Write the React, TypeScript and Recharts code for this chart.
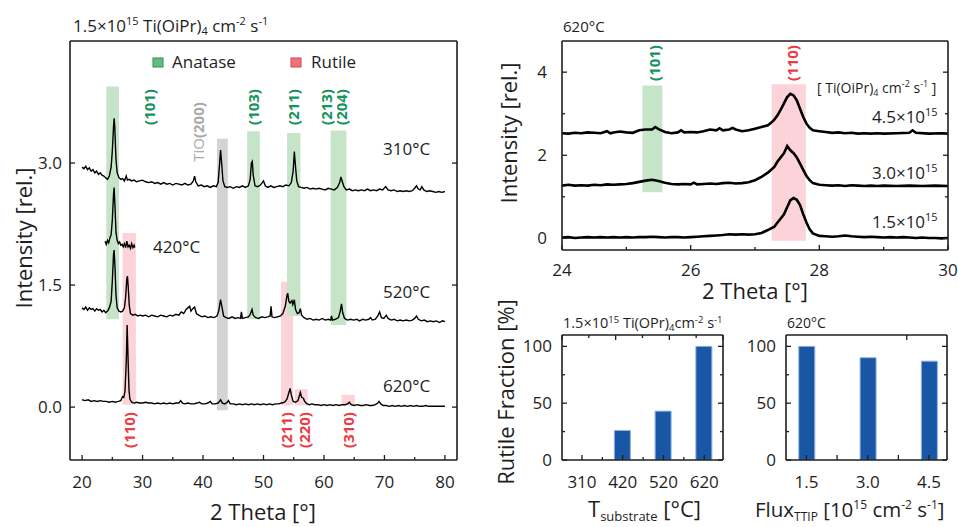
import React from "react";
import { ComposedChart, Line, Bar, XAxis, YAxis, ReferenceArea } from "recharts";

const W = 958;
const H = 527;
const FONT = "'Open Sans', 'Noto Sans', sans-serif";
const INK = "#1e1e1e";
const GREEN_BAND = "#c6e5c8";
const PINK_BAND = "#fcd3d8";
const GREY_BAND = "#d3d3d3";
const GREEN_TXT = "#17935c";
const RED_TXT = "#ee3a45";
const BAR_BLUE = "#1a56a6";
const AX = 10; // space reserved for every axis

// ---- left panel: XRD scans at different substrate temperatures [2θ, intensity] ----
const xrd310 = [
  [20.0, 2.95], [20.3, 2.93], [20.6, 2.96], [20.9, 2.92], [21.2, 2.94], [21.5, 2.9], [21.8, 2.92], [22.1, 2.88],
  [22.4, 2.9], [22.7, 2.86], [23.0, 2.88], [23.3, 2.85], [23.6, 2.84], [23.9, 2.82], [24.2, 2.8], [24.5, 2.84],
  [24.8, 2.95], [25.0, 3.15], [25.2, 3.45], [25.3, 3.55], [25.4, 3.45], [25.6, 3.05], [25.8, 2.88], [26.1, 2.82],
  [26.4, 2.8], [26.7, 2.81], [27.0, 2.78], [27.3, 2.84], [27.5, 2.79], [27.8, 2.8], [28.2, 2.78], [28.6, 2.79],
  [29.0, 2.77], [29.5, 2.78], [30.0, 2.79], [30.5, 2.77], [31.0, 2.76], [31.5, 2.77], [32.0, 2.75], [32.5, 2.76],
  [33.0, 2.74], [33.5, 2.76], [34.0, 2.74], [34.5, 2.75], [35.0, 2.73], [35.5, 2.75], [36.0, 2.74], [36.5, 2.73],
  [37.0, 2.75], [37.5, 2.73], [38.0, 2.74], [38.4, 2.78], [38.6, 2.84], [38.8, 2.77], [39.2, 2.72], [39.7, 2.73],
  [40.2, 2.71], [40.7, 2.72], [41.2, 2.7], [41.7, 2.72], [42.2, 2.71], [42.5, 2.76], [42.7, 2.95], [42.9, 3.16],
  [43.1, 2.98], [43.3, 2.78], [43.6, 2.71], [44.0, 2.7], [44.5, 2.71], [45.0, 2.69], [45.5, 2.71], [46.0, 2.7],
  [46.5, 2.72], [47.0, 2.7], [47.5, 2.72], [47.8, 2.8], [48.0, 3.0], [48.15, 3.02], [48.3, 2.85], [48.6, 2.72],
  [49.0, 2.71], [49.5, 2.73], [50.0, 2.78], [50.3, 2.72], [50.7, 2.7], [51.2, 2.72], [51.7, 2.7], [52.2, 2.71],
  [52.7, 2.72], [53.2, 2.71], [53.7, 2.73], [54.2, 2.72], [54.6, 2.76], [54.9, 2.9], [55.1, 3.14], [55.3, 2.95],
  [55.5, 2.78], [55.8, 2.71], [56.2, 2.7], [56.7, 2.69], [57.2, 2.7], [57.7, 2.68], [58.2, 2.69], [58.7, 2.68],
  [59.2, 2.69], [59.7, 2.68], [60.2, 2.67], [60.7, 2.69], [61.2, 2.68], [61.7, 2.67], [62.2, 2.7], [62.6, 2.76],
  [62.8, 2.83], [63.0, 2.78], [63.3, 2.71], [63.7, 2.67], [64.2, 2.68], [64.7, 2.66], [65.2, 2.67], [65.7, 2.66],
  [66.2, 2.67], [66.7, 2.66], [67.2, 2.68], [67.7, 2.66], [68.2, 2.67], [68.7, 2.66], [69.2, 2.68], [69.7, 2.67],
  [70.2, 2.71], [70.6, 2.67], [71.1, 2.66], [71.6, 2.67], [72.1, 2.65], [72.6, 2.66], [73.1, 2.65], [73.6, 2.66],
  [74.1, 2.65], [74.6, 2.66], [75.0, 2.69], [75.3, 2.72], [75.6, 2.68], [75.9, 2.67], [76.2, 2.71], [76.5, 2.67],
  [77.0, 2.65], [77.5, 2.66], [78.0, 2.65], [78.5, 2.64], [79.0, 2.65], [79.5, 2.64], [80.0, 2.65],
];

const xrd420 = [
  [23.8, 2.04], [24.0, 2.0], [24.2, 2.05], [24.4, 2.02], [24.6, 2.08], [24.8, 2.12], [25.0, 2.3], [25.2, 2.62],
  [25.3, 2.7], [25.45, 2.45], [25.6, 2.15], [25.8, 2.05], [26.0, 2.01], [26.2, 2.03], [26.4, 1.99], [26.6, 2.0],
  [26.8, 1.97], [27.0, 2.01], [27.2, 1.96], [27.4, 2.04], [27.6, 1.97], [27.8, 1.99], [28.0, 1.95], [28.2, 2.01],
  [28.4, 1.96], [28.6, 1.99], [28.7, 1.96],
];

const xrd520 = [
  [20.0, 1.22], [20.3, 1.2], [20.6, 1.23], [20.9, 1.19], [21.2, 1.22], [21.5, 1.2], [21.8, 1.21], [22.1, 1.18],
  [22.4, 1.21], [22.7, 1.19], [23.0, 1.2], [23.3, 1.17], [23.6, 1.19], [23.9, 1.16], [24.2, 1.18], [24.5, 1.22],
  [24.8, 1.3], [25.0, 1.55], [25.2, 1.88], [25.3, 1.93], [25.45, 1.7], [25.6, 1.38], [25.8, 1.22], [26.1, 1.18],
  [26.4, 1.17], [26.7, 1.18], [27.0, 1.22], [27.2, 1.35], [27.4, 1.58], [27.5, 1.61], [27.65, 1.45], [27.8, 1.25],
  [28.0, 1.15], [28.4, 1.13], [28.8, 1.14], [29.2, 1.12], [29.6, 1.13], [30.0, 1.12], [30.5, 1.13], [31.0, 1.11],
  [31.5, 1.13], [32.0, 1.12], [32.5, 1.11], [33.0, 1.13], [33.5, 1.12], [34.0, 1.11], [34.5, 1.13], [35.0, 1.12],
  [35.5, 1.14], [36.0, 1.13], [36.4, 1.17], [36.8, 1.15], [37.2, 1.2], [37.5, 1.22], [37.8, 1.24], [38.0, 1.18],
  [38.3, 1.21], [38.6, 1.23], [38.9, 1.15], [39.3, 1.13], [39.8, 1.11], [40.3, 1.12], [40.8, 1.1], [41.3, 1.11],
  [41.8, 1.1], [42.3, 1.12], [42.6, 1.18], [42.9, 1.32], [43.1, 1.24], [43.4, 1.12], [43.8, 1.1], [44.3, 1.09],
  [44.8, 1.11], [45.3, 1.09], [45.8, 1.1], [46.2, 1.09], [46.35, 1.17], [46.5, 1.09], [47.0, 1.1], [47.5, 1.11],
  [47.8, 1.14], [48.1, 1.2], [48.3, 1.13], [48.7, 1.1], [49.2, 1.09], [49.7, 1.11], [50.2, 1.1], [50.7, 1.11],
  [51.1, 1.12], [51.25, 1.24], [51.4, 1.11], [51.8, 1.1], [52.3, 1.11], [52.8, 1.12], [53.2, 1.15], [53.6, 1.24],
  [53.9, 1.38], [54.0, 1.4], [54.2, 1.3], [54.4, 1.28], [54.7, 1.31], [54.85, 1.26], [55.1, 1.32], [55.3, 1.2],
  [55.6, 1.15], [55.9, 1.16], [56.1, 1.21], [56.3, 1.13], [56.7, 1.1], [57.2, 1.08], [57.7, 1.09], [58.2, 1.07],
  [58.7, 1.08], [59.2, 1.07], [59.7, 1.09], [60.2, 1.07], [60.7, 1.08], [61.1, 1.07], [61.25, 1.12], [61.4, 1.07],
  [61.9, 1.08], [62.4, 1.1], [62.7, 1.18], [62.9, 1.27], [63.1, 1.16], [63.4, 1.09], [63.9, 1.07], [64.4, 1.08],
  [64.9, 1.07], [65.4, 1.08], [65.9, 1.06], [66.4, 1.08], [66.9, 1.07], [67.4, 1.08], [67.7, 1.1], [68.0, 1.07],
  [68.5, 1.08], [68.9, 1.12], [69.2, 1.17], [69.5, 1.1], [69.9, 1.09], [70.3, 1.13], [70.6, 1.09], [71.1, 1.07],
  [71.6, 1.08], [72.1, 1.06], [72.6, 1.07], [73.1, 1.06], [73.6, 1.07], [74.1, 1.06], [74.6, 1.07], [75.0, 1.09],
  [75.3, 1.12], [75.6, 1.08], [76.1, 1.06], [76.6, 1.07], [77.1, 1.05], [77.6, 1.06], [78.1, 1.05], [78.6, 1.06],
  [79.1, 1.04], [79.6, 1.06], [80.0, 1.05],
];

const xrd620 = [
  [20.0, 0.09], [20.5, 0.08], [21.0, 0.09], [21.5, 0.07], [22.0, 0.08], [22.5, 0.07], [23.0, 0.08], [23.5, 0.07],
  [24.0, 0.07], [24.5, 0.06], [25.0, 0.07], [25.5, 0.06], [26.0, 0.07], [26.4, 0.08], [26.7, 0.13], [26.9, 0.12],
  [27.1, 0.2], [27.3, 0.55], [27.45, 1.01], [27.6, 0.6], [27.75, 0.22], [27.9, 0.1], [28.2, 0.06], [28.6, 0.05],
  [29.0, 0.06], [29.5, 0.05], [30.0, 0.05], [30.5, 0.06], [31.0, 0.05], [31.5, 0.05], [32.0, 0.04], [32.5, 0.05],
  [33.0, 0.04], [33.5, 0.05], [34.0, 0.04], [34.5, 0.05], [35.0, 0.04], [35.5, 0.05], [36.0, 0.05], [36.3, 0.08],
  [36.6, 0.05], [37.0, 0.04], [37.5, 0.05], [38.0, 0.04], [38.5, 0.04], [39.0, 0.05], [39.4, 0.06], [39.8, 0.04],
  [40.3, 0.04], [40.8, 0.05], [41.2, 0.07], [41.5, 0.04], [42.0, 0.04], [42.5, 0.05], [42.9, 0.09], [43.2, 0.05],
  [43.6, 0.04], [44.0, 0.06], [44.2, 0.08], [44.5, 0.04], [45.0, 0.04], [45.5, 0.03], [46.0, 0.04], [46.5, 0.03],
  [47.0, 0.04], [47.5, 0.03], [48.0, 0.04], [48.5, 0.03], [49.0, 0.04], [49.5, 0.03], [50.0, 0.04], [50.5, 0.03],
  [51.0, 0.04], [51.5, 0.03], [52.0, 0.04], [52.5, 0.04], [53.0, 0.05], [53.5, 0.06], [53.9, 0.1], [54.2, 0.18],
  [54.4, 0.23], [54.6, 0.15], [54.9, 0.07], [55.3, 0.06], [55.7, 0.08], [55.9, 0.13], [56.1, 0.18], [56.3, 0.12],
  [56.6, 0.11], [56.8, 0.07], [57.2, 0.04], [57.6, 0.03], [58.0, 0.04], [58.5, 0.03], [59.0, 0.03], [59.5, 0.02],
  [60.0, 0.03], [60.5, 0.02], [61.0, 0.03], [61.5, 0.02], [62.0, 0.03], [62.5, 0.02], [63.0, 0.03], [63.5, 0.03],
  [63.9, 0.04], [64.2, 0.06], [64.5, 0.03], [65.0, 0.02], [65.5, 0.03], [66.0, 0.02], [66.5, 0.02], [67.0, 0.03],
  [67.5, 0.02], [68.0, 0.02], [68.5, 0.03], [68.9, 0.05], [69.1, 0.07], [69.4, 0.04], [69.8, 0.02], [70.3, 0.02],
  [70.8, 0.01], [71.3, 0.02], [71.8, 0.01], [72.3, 0.02], [72.8, 0.01], [73.3, 0.02], [73.8, 0.01], [74.3, 0.02],
  [74.8, 0.01], [75.3, 0.02], [75.8, 0.01], [76.3, 0.01], [76.8, 0.02], [77.3, 0.01], [77.8, 0.01], [78.3, 0.01],
  [78.8, 0.01], [79.3, 0.01], [80.0, 0.01],
];

// peak marker bands (2θ range, intensity range)
const greenBandsMain = [
  { x1: 24.0, x2: 26.1, y1: 1.08, y2: 3.94 },
  { x1: 47.3, x2: 49.4, y1: 1.08, y2: 3.39 },
  { x1: 61.1, x2: 63.7, y1: 1.01, y2: 3.4 },
];
const green211 = { x1: 53.9, x2: 56.1, y1: 1.12, y2: 3.37 };
const pinkBandsMain = [
  { x1: 26.7, x2: 28.9, y1: 0.03, y2: 2.14 },
  { x1: 52.9, x2: 54.9, y1: 0.02, y2: 1.54 },
  { x1: 55.2, x2: 57.3, y1: 0.02, y2: 0.22 },
  { x1: 62.9, x2: 65.1, y1: 0.02, y2: 0.15 },
];
const tioBand = { x1: 42.3, x2: 44.1, y1: -0.04, y2: 3.3 };

const mainXTicks = [20, 25, 30, 35, 40, 45, 50, 55, 60, 65, 70, 75, 80];
const mainXMajor = [20, 30, 40, 50, 60, 70, 80];
const mainYTicks = [0, 1.5, 3];

// ---- top right: 620 °C, different TTIP flux ----
const flux15 = [
  [24.0, 0.02], [24.1, 0.03], [24.2, 0.01], [24.3, 0.02], [24.4, 0.03], [24.5, 0.02], [24.6, 0.03], [24.7, 0.02],
  [24.8, 0.03], [24.9, 0.02], [25.0, 0.03], [25.1, 0.02], [25.2, 0.03], [25.3, 0.03], [25.4, 0.04], [25.5, 0.03],
  [25.6, 0.02], [25.7, 0.03], [25.8, 0.03], [25.9, 0.02], [26.0, 0.03], [26.1, 0.04], [26.2, 0.05], [26.3, 0.06],
  [26.4, 0.07], [26.5, 0.08], [26.6, 0.1], [26.7, 0.09], [26.8, 0.1], [26.9, 0.09], [27.0, 0.1], [27.1, 0.13],
  [27.2, 0.2], [27.3, 0.28], [27.35, 0.38], [27.4, 0.48], [27.45, 0.58], [27.5, 0.75], [27.55, 0.92], [27.6, 0.97],
  [27.65, 0.93], [27.7, 0.8], [27.75, 0.58], [27.8, 0.38], [27.85, 0.22], [27.9, 0.12], [28.0, 0.06], [28.1, 0.05],
  [28.2, 0.04], [28.3, 0.05], [28.4, 0.07], [28.5, 0.05], [28.6, 0.04], [28.7, 0.03], [28.8, 0.04], [28.9, 0.03],
  [29.0, 0.02], [29.1, 0.03], [29.2, 0.02], [29.3, 0.03], [29.4, 0.02], [29.5, 0.01], [29.6, 0.02], [29.7, 0.01],
  [29.8, 0.01], [29.9, 0.0], [30.0, 0.01],
];
const flux30 = [
  [24.0, 1.27], [24.1, 1.29], [24.2, 1.27], [24.3, 1.28], [24.4, 1.27], [24.5, 1.29], [24.6, 1.28], [24.7, 1.3],
  [24.8, 1.29], [24.9, 1.3], [25.0, 1.31], [25.1, 1.33], [25.2, 1.36], [25.3, 1.39], [25.4, 1.41], [25.5, 1.38],
  [25.6, 1.34], [25.7, 1.31], [25.8, 1.3], [25.9, 1.31], [26.0, 1.3], [26.05, 1.34], [26.1, 1.3], [26.2, 1.31],
  [26.3, 1.32], [26.4, 1.31], [26.5, 1.33], [26.6, 1.34], [26.7, 1.32], [26.8, 1.33], [26.9, 1.35], [27.0, 1.4],
  [27.1, 1.48], [27.2, 1.58], [27.3, 1.72], [27.35, 1.85], [27.4, 1.95], [27.45, 2.05], [27.5, 2.22], [27.55, 2.12],
  [27.6, 2.05], [27.65, 1.95], [27.7, 1.8], [27.75, 1.65], [27.8, 1.5], [27.85, 1.4], [27.9, 1.33], [28.0, 1.29],
  [28.1, 1.28], [28.2, 1.27], [28.3, 1.28], [28.4, 1.26], [28.5, 1.28], [28.6, 1.27], [28.7, 1.26], [28.8, 1.27],
  [28.9, 1.26], [29.0, 1.27], [29.2, 1.26], [29.4, 1.27], [29.6, 1.26], [29.8, 1.27], [30.0, 1.26],
];
const flux45 = [
  [24.0, 2.53], [24.1, 2.52], [24.2, 2.54], [24.3, 2.53], [24.4, 2.55], [24.5, 2.54], [24.6, 2.53], [24.7, 2.58],
  [24.75, 2.53], [24.8, 2.55], [24.9, 2.57], [25.0, 2.55], [25.1, 2.54], [25.2, 2.6], [25.3, 2.62], [25.4, 2.62],
  [25.45, 2.68], [25.5, 2.63], [25.6, 2.56], [25.7, 2.53], [25.8, 2.55], [25.85, 2.6], [25.9, 2.55], [26.0, 2.56],
  [26.1, 2.55], [26.2, 2.58], [26.3, 2.62], [26.4, 2.6], [26.45, 2.65], [26.5, 2.6], [26.6, 2.62], [26.65, 2.66],
  [26.7, 2.62], [26.8, 2.58], [26.9, 2.6], [27.0, 2.64], [27.1, 2.68], [27.2, 2.72], [27.25, 2.78], [27.3, 2.86],
  [27.35, 2.96], [27.4, 3.1], [27.45, 3.25], [27.5, 3.4], [27.55, 3.48], [27.6, 3.44], [27.65, 3.32], [27.7, 3.12],
  [27.75, 2.92], [27.8, 2.76], [27.85, 2.66], [27.9, 2.6], [28.0, 2.58], [28.1, 2.56], [28.2, 2.54], [28.3, 2.55],
  [28.4, 2.53], [28.5, 2.54], [28.6, 2.52], [28.7, 2.53], [28.8, 2.52], [28.9, 2.53], [29.0, 2.52], [29.2, 2.53],
  [29.4, 2.54], [29.45, 2.6], [29.5, 2.54], [29.7, 2.52], [29.9, 2.53], [30.0, 2.52],
];
const zoomGreen = { x1: 25.25, x2: 25.56, y1: 1.11, y2: 3.68 };
const zoomPink = { x1: 27.26, x2: 27.79, y1: -0.06, y2: 3.71 };
const zoomXTicks = [24, 25, 26, 27, 28, 29, 30];
const zoomXMajor = [24, 26, 28, 30];
const zoomYTicks = [0, 1, 2, 3, 4];
const zoomYMajor = [0, 2, 4];

// ---- bottom: rutile fraction ----
const tempCats = ["310", "420", "520", "620"];
const rutileByTemp = [0, 26, 43, 100];
const fluxVals = [1.5, 3.0, 4.5];
const rutileByFlux = [100, 90, 87];
const tempTicks = [0, 0.5, 1, 1.5, 2, 2.5, 3];
const tempMajor = [0, 1, 2, 3];
const fluxTicks = [1.5, 2.25, 3, 3.75, 4.5];
const fracTicks = [0, 25, 50, 75, 100];
const fracMajor = [0, 50, 100];

const toPts = (a: number[][]) => a.map(([x, y]) => ({ x, y }));
const tempData = tempCats.map((c, i) => ({ i, v: rutileByTemp[i] }));
const fluxData = fluxVals.map((f, i) => ({ f, v: rutileByFlux[i] }));

type Side = "bottom" | "top" | "left" | "right";
function tick(side: Side, major: number[], len: number, minorLen: number, fmt?: (v: number) => string, gap = 0, size = 17) {
  return (p: any) => {
    const { x, y, payload } = p;
    const v = payload.value;
    const isMajor = major.includes(v);
    const L = isMajor ? len : minorLen;
    let ln;
    let label = null;
    if (side === "bottom") {
      ln = <line x1={x} y1={y} x2={x} y2={y - L} />;
      if (fmt && isMajor) label = <text x={x} y={y + gap} textAnchor="middle" stroke="none">{fmt(v)}</text>;
    } else if (side === "top") {
      ln = <line x1={x} y1={y} x2={x} y2={y + L} />;
    } else if (side === "left") {
      ln = <line x1={x} y1={y} x2={x + L} y2={y} />;
      if (fmt && isMajor) label = <text x={x - gap} y={y + size * 0.36} textAnchor="end" stroke="none">{fmt(v)}</text>;
    } else {
      ln = <line x1={x} y1={y} x2={x - L} y2={y} />;
    }
    return (
      <g stroke={INK} strokeWidth={1.3} fill={INK} fontSize={size} fontFamily={FONT}>
        {ln}
        {label}
      </g>
    );
  };
}

const axisCommon = { tickLine: false, tickSize: 0, tickMargin: 0, interval: 0 as const, axisLine: { stroke: INK, strokeWidth: 1.6 } };
const layer: React.CSSProperties = { position: "absolute", left: 0, top: 0 };

// plot box (global pixels) -> chart margins, leaving AX px for each axis
const box = (l: number, t: number, r: number, b: number) => ({ left: l - AX, top: t - AX, right: W - r - AX, bottom: H - b - AX });

export default function App() {
  return (
    <div style={{ position: "absolute", left: 0, top: 0, width: W, height: H, background: "#fff", fontFamily: FONT }}>
      {/* left: temperature series */}
      <div style={layer}>
        <ComposedChart width={W} height={H} margin={box(70, 41, 457, 460)}>
          <XAxis xAxisId="b" dataKey="x" type="number" domain={[18, 82]} allowDataOverflow ticks={mainXTicks} height={AX}
            {...axisCommon} tick={tick("bottom", mainXMajor, 5, 3, (v) => String(v), 28)} />
          <XAxis xAxisId="t" orientation="top" type="number" domain={[18, 82]} allowDataOverflow ticks={mainXTicks} height={AX}
            {...axisCommon} tick={tick("top", mainXMajor, 5, 3)} />
          <YAxis yAxisId="l" type="number" domain={[-0.65, 4.5]} allowDataOverflow ticks={mainYTicks} width={AX}
            {...axisCommon} tick={tick("left", mainYTicks, 5, 3, (v) => v.toFixed(1), 8)} />
          <YAxis yAxisId="r" orientation="right" type="number" domain={[-0.65, 4.5]} allowDataOverflow ticks={mainYTicks} width={AX}
            {...axisCommon} tick={tick("right", mainYTicks, 5, 3)} />
          {greenBandsMain.map((b, i) => (
            <ReferenceArea key={"g" + i} xAxisId="b" yAxisId="l" {...b} fill={GREEN_BAND} fillOpacity={1} stroke="none" />
          ))}
          {pinkBandsMain.map((b, i) => (
            <ReferenceArea key={"p" + i} xAxisId="b" yAxisId="l" {...b} fill={PINK_BAND} fillOpacity={1} stroke="none" />
          ))}
          <ReferenceArea xAxisId="b" yAxisId="l" {...green211} fill={GREEN_BAND} fillOpacity={1} stroke="none" />
          <ReferenceArea xAxisId="b" yAxisId="l" {...tioBand} fill={GREY_BAND} fillOpacity={1} stroke="none" />
          {[xrd310, xrd420, xrd520, xrd620].map((s, i) => (
            <Line key={i} xAxisId="b" yAxisId="l" data={toPts(s)} dataKey="y" type="linear" dot={false}
              stroke="#000" strokeWidth={1.4} isAnimationActive={false} />
          ))}
        </ComposedChart>
      </div>

      {/* top right: flux series at 620 °C */}
      <div style={layer}>
        <ComposedChart width={W} height={H} margin={box(562, 41, 948, 250)}>
          <XAxis xAxisId="b" dataKey="x" type="number" domain={[24, 30]} allowDataOverflow ticks={zoomXTicks} height={AX}
            {...axisCommon} tick={tick("bottom", zoomXMajor, 5, 3, (v) => String(v), 26)} />
          <XAxis xAxisId="t" orientation="top" type="number" domain={[24, 30]} allowDataOverflow ticks={zoomXTicks} height={AX}
            {...axisCommon} tick={tick("top", zoomXMajor, 5, 3)} />
          <YAxis yAxisId="l" type="number" domain={[-0.28, 4.75]} allowDataOverflow ticks={zoomYTicks} width={AX}
            {...axisCommon} tick={tick("left", zoomYMajor, 5, 3, (v) => String(v), 15)} />
          <YAxis yAxisId="r" orientation="right" type="number" domain={[-0.28, 4.75]} allowDataOverflow ticks={zoomYTicks} width={AX}
            {...axisCommon} tick={tick("right", zoomYMajor, 5, 3)} />
          <ReferenceArea xAxisId="b" yAxisId="l" {...zoomGreen} fill={GREEN_BAND} fillOpacity={1} stroke="none" />
          <ReferenceArea xAxisId="b" yAxisId="l" {...zoomPink} fill={PINK_BAND} fillOpacity={1} stroke="none" />
          {[flux15, flux30, flux45].map((s, i) => (
            <Line key={i} xAxisId="b" yAxisId="l" data={toPts(s)} dataKey="y" type="linear" dot={false}
              stroke="#000" strokeWidth={2.6} isAnimationActive={false} />
          ))}
        </ComposedChart>
      </div>

      {/* bottom left: rutile fraction vs temperature */}
      <div style={layer}>
        <ComposedChart width={W} height={H} data={tempData} margin={box(562, 335, 723, 460)}>
          <XAxis xAxisId="b" dataKey="i" type="number" domain={[-0.49, 3.46]} allowDataOverflow ticks={tempTicks} height={AX}
            {...axisCommon} tick={tick("bottom", tempMajor, 5, 3, (v) => tempCats[v], 28)} />
          <XAxis xAxisId="t" orientation="top" type="number" domain={[-0.49, 3.46]} allowDataOverflow ticks={tempTicks} height={AX}
            {...axisCommon} tick={tick("top", tempMajor, 5, 3)} />
          <YAxis yAxisId="l" type="number" domain={[0, 110]} allowDataOverflow ticks={fracTicks} width={AX}
            {...axisCommon} tick={tick("left", fracMajor, 5, 3, (v) => String(v), 10)} />
          <YAxis yAxisId="r" orientation="right" type="number" domain={[0, 110]} allowDataOverflow ticks={fracTicks} width={AX}
            {...axisCommon} tick={tick("right", fracMajor, 5, 3)} />
          <Bar xAxisId="b" yAxisId="l" dataKey="v" barSize={16} fill={BAR_BLUE} stroke="#8fb2de" strokeWidth={1}
            isAnimationActive={false} />
        </ComposedChart>
      </div>

      {/* bottom right: rutile fraction vs flux */}
      <div style={layer}>
        <ComposedChart width={W} height={H} data={fluxData} margin={box(786, 335, 947, 460)}>
          <XAxis xAxisId="b" dataKey="f" type="number" domain={[1.0, 4.94]} allowDataOverflow ticks={fluxTicks} height={AX}
            {...axisCommon} tick={tick("bottom", fluxVals, 5, 5, (v) => v.toFixed(1), 28)} />
          <XAxis xAxisId="t" orientation="top" type="number" domain={[1.0, 4.94]} allowDataOverflow ticks={fluxTicks} height={AX}
            {...axisCommon} tick={tick("top", fluxVals, 5, 5)} />
          <YAxis yAxisId="l" type="number" domain={[0, 110]} allowDataOverflow ticks={fracTicks} width={AX}
            {...axisCommon} tick={tick("left", fracMajor, 5, 3, (v) => String(v), 10)} />
          <YAxis yAxisId="r" orientation="right" type="number" domain={[0, 110]} allowDataOverflow ticks={fracTicks} width={AX}
            {...axisCommon} tick={tick("right", fracMajor, 5, 3)} />
          <Bar xAxisId="b" yAxisId="l" dataKey="v" barSize={16} fill={BAR_BLUE} stroke="#8fb2de" strokeWidth={1}
            isAnimationActive={false} />
        </ComposedChart>
      </div>

      {/* annotations */}
      <svg width={W} height={H} style={{ ...layer, pointerEvents: "none" }} fontFamily={FONT} fill={INK}>
        <text x={73} y={32} fontSize={17}>
          1.5×10<tspan dy={-7} fontSize={11}>15</tspan>
          <tspan dy={7}>{" Ti(OiPr)"}</tspan>
          <tspan dy={3} fontSize={11}>4</tspan>
          <tspan dy={-3}>{" cm"}</tspan>
          <tspan dy={-7} fontSize={11}>-2</tspan>
          <tspan dy={7}>{" s"}</tspan>
          <tspan dy={-7} fontSize={11}>-1</tspan>
        </text>

        <rect x={153} y={58} width={10} height={9} fill="#63bb7f" stroke="#2f8f55" strokeWidth={1} />
        <text x={172} y={68} fontSize={17}>Anatase</text>
        <rect x={291} y={58} width={10} height={9} fill="#f0727a" stroke="#d9434e" strokeWidth={1} />
        <text x={311} y={68} fontSize={17}>Rutile</text>

        {[["(101)", 149], ["(103)", 253], ["(211)", 293], ["(213)", 325.5], ["(204)", 340.5]].map(([t, x]) => (
          <text key={t as string} transform={`translate(${x},107) rotate(-90)`} textAnchor="middle" dominantBaseline="central"
            fontSize={15} fontWeight="bold" fill={GREEN_TXT}>{t}</text>
        ))}
        <text transform="translate(198,132) rotate(-90)" textAnchor="middle" dominantBaseline="central" fontSize={15} fill="#a9a9a9">
          TiO<tspan fontWeight="bold">(200)</tspan>
        </text>
        {[["(110)", 129.3], ["(211)", 286], ["(220)", 304], ["(310)", 348.3]].map(([t, x]) => (
          <text key={t as string} transform={`translate(${x},430) rotate(-90)`} textAnchor="middle" dominantBaseline="central"
            fontSize={15} fontWeight="bold" fill={RED_TXT}>{t}</text>
        ))}

        <text x={383} y={155} fontSize={17}>310°C</text>
        <text x={153} y={253} fontSize={17}>420°C</text>
        <text x={383} y={298} fontSize={17}>520°C</text>
        <text x={383} y={392} fontSize={17}>620°C</text>

        <text transform="translate(23,238) rotate(-90)" textAnchor="middle" dominantBaseline="central" fontSize={22}>Intensity [rel.]</text>
        <text x={263} y={520} textAnchor="middle" fontSize={22}>2 Theta [°]</text>

        {/* top right */}
        <text x={563} y={32} fontSize={15}>620°C</text>
        <text transform="translate(653.5,63) rotate(-90)" textAnchor="middle" dominantBaseline="central" fontSize={15}
          fontWeight="bold" fill={GREEN_TXT}>(101)</text>
        <text transform="translate(791.5,63) rotate(-90)" textAnchor="middle" dominantBaseline="central" fontSize={15}
          fontWeight="bold" fill={RED_TXT}>(110)</text>
        <text x={817} y={93} fontSize={14}>
          [ Ti(OiPr)<tspan dy={3} fontSize={9}>4</tspan>
          <tspan dy={-3}>{" cm"}</tspan>
          <tspan dy={-6} fontSize={9}>-2</tspan>
          <tspan dy={6}>{" s"}</tspan>
          <tspan dy={-6} fontSize={9}>-1</tspan>
          <tspan dy={6}>{" ]"}</tspan>
        </text>
        {[["4.5", 123], ["3.0", 179], ["1.5", 228]].map(([t, y]) => (
          <text key={t as string} x={872} y={y as number} fontSize={17}>
            {t}×10<tspan dy={-7} fontSize={11}>15</tspan>
          </text>
        ))}
        <text transform="translate(508,133) rotate(-90)" textAnchor="middle" dominantBaseline="central" fontSize={22}>Intensity [rel.]</text>
        <text x={755} y={299} textAnchor="middle" fontSize={22}>2 Theta [°]</text>

        {/* bottom */}
        <text x={563} y={328} fontSize={14.5}>
          1.5×10<tspan dy={-5} fontSize={9.5}>15</tspan>
          <tspan dy={5}>{" Ti(OPr)"}</tspan>
          <tspan dy={3} fontSize={9.5}>4</tspan>
          <tspan dy={-3}>cm</tspan>
          <tspan dy={-5} fontSize={9.5}>-2</tspan>
          <tspan dy={5}>{" s"}</tspan>
          <tspan dy={-5} fontSize={9.5}>-1</tspan>
        </text>
        <text x={787} y={328} fontSize={14}>620°C</text>
        <text transform="translate(505,392) rotate(-90)" textAnchor="middle" dominantBaseline="central" fontSize={22}>Rutile Fraction [%]</text>
        <text x={588} y={517} fontSize={22}>
          T<tspan dy={4} fontSize={13}>substrate</tspan>
          <tspan dy={-4}>{" [°C]"}</tspan>
        </text>
        <text x={755} y={517} fontSize={20.5}>
          Flux<tspan dy={4} fontSize={12}>TTIP</tspan>
          <tspan dy={-4}>{" [10"}</tspan>
          <tspan dy={-8} fontSize={12}>15</tspan>
          <tspan dy={8}>{" cm"}</tspan>
          <tspan dy={-8} fontSize={12}>-2</tspan>
          <tspan dy={8}>{" s"}</tspan>
          <tspan dy={-8} fontSize={12}>-1</tspan>
          <tspan dy={8}>]</tspan>
        </text>
      </svg>
    </div>
  );
}
